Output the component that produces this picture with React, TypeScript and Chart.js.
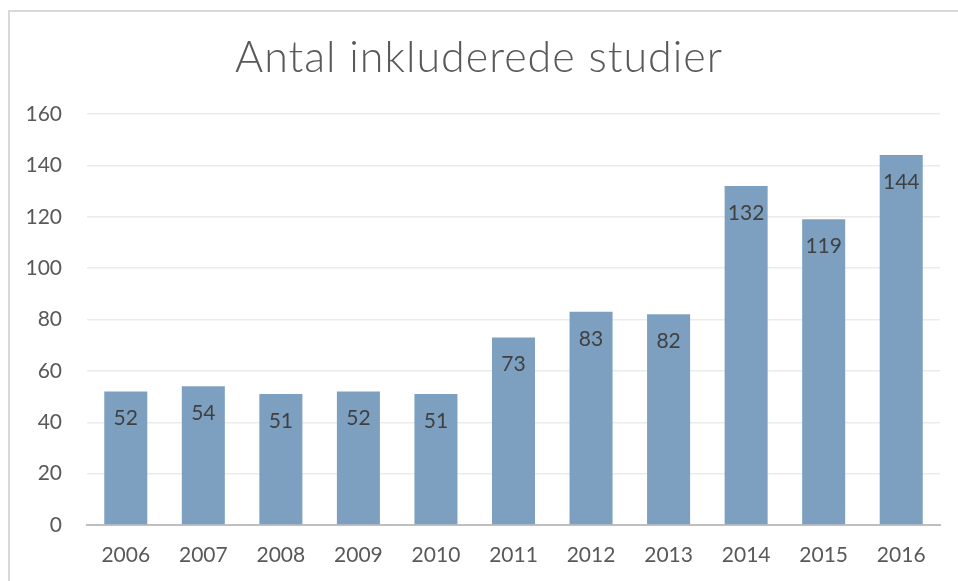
import React, { useEffect, useRef } from "react";
import { Chart, registerables } from "chart.js";

Chart.register(...registerables);

const categories = ["2006", "2007", "2008", "2009", "2010", "2011", "2012", "2013", "2014", "2015", "2016"];
const studies = [52, 54, 51, 52, 51, 73, 83, 82, 132, 119, 144];
const chartTitle = "Antal inkluderede studier";

const titlePlugin = {
  id: "customTitle",
  afterDraw(chart: any) {
    const ctx = chart.ctx;
    ctx.save();
    ctx.font = "300 43px 'Lato', 'DejaVu Sans', sans-serif";
    (ctx as any).letterSpacing = "1px";
    ctx.fillStyle = "#595959";
    ctx.textAlign = "center";
    ctx.textBaseline = "alphabetic";
    ctx.fillText(chartTitle, chart.width / 2, 72);
    ctx.restore();
  },
};

const labelPlugin = {
  id: "barLabels",
  afterDatasetsDraw(chart: any) {
    const ctx = chart.ctx;
    const meta = chart.getDatasetMeta(0);
    ctx.save();
    ctx.font = "21px 'Lato', 'DejaVu Sans', sans-serif";
    ctx.fillStyle = "#404040";
    ctx.textAlign = "center";
    ctx.textBaseline = "middle";
    meta.data.forEach((bar: any, i: number) => {
      ctx.fillText(String(studies[i]), bar.x, bar.y + 27);
    });
    ctx.restore();
  },
};

export default function App() {
  const ref = useRef<HTMLCanvasElement>(null);
  useEffect(() => {
    if (!ref.current) return;
    const chart = new Chart(ref.current, {
      type: "bar",
      data: {
        labels: categories,
        datasets: [
          {
            data: studies,
            backgroundColor: "#7DA0C1",
            barPercentage: 0.555,
            categoryPercentage: 1,
          },
        ],
      },
      options: {
        animation: false,
        responsive: false,
        maintainAspectRatio: false,
        layout: { padding: { top: 114, right: 18, left: 0, bottom: 0 } },
        plugins: {
          legend: { display: false },
          title: { display: false },
          tooltip: { enabled: false },
        },
        scales: {
          x: {
            grid: { display: false },
            border: { color: "#bfbfbf", width: 2 },
            ticks: {
              color: "#595959",
              font: { family: "'Lato', 'DejaVu Sans', sans-serif", size: 21 },
              padding: 10,
              maxRotation: 0,
            },
            afterFit: (s: any) => {
              s.height = 56;
            },
          },
          y: {
            min: 0,
            max: 160,
            ticks: {
              stepSize: 20,
              color: "#595959",
              font: { family: "'Lato', 'DejaVu Sans', sans-serif", size: 21 },
              padding: 25,
            },
            grid: { color: "#ebebeb", lineWidth: 1.5, drawTicks: false },
            border: { display: false },
            afterFit: (s: any) => {
              s.width = 87;
            },
          },
        },
      },
      plugins: [titlePlugin, labelPlugin],
    });
    return () => chart.destroy();
  }, []);
  return (
    <div style={{ position: "fixed", left: 0, top: 0, width: 958, height: 581, background: "#fff", overflow: "hidden" }}>
      <div
        style={{
          position: "absolute",
          left: 8,
          top: 10,
          width: 1000,
          height: 1000,
          borderTop: "2px solid #d9d9d9",
          borderLeft: "2px solid #d9d9d9",
        }}
      />
      <canvas ref={ref} width={958} height={581} style={{ position: "absolute", left: 0, top: 0 }} />
    </div>
  );
}
